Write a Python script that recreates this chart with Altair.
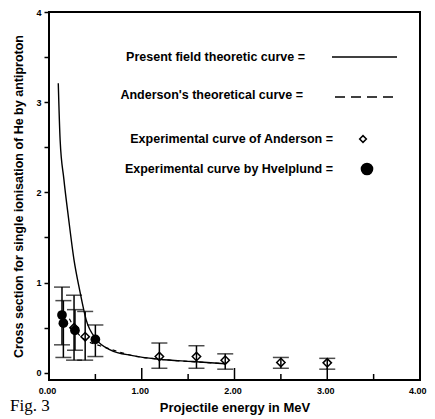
import altair as alt
import pandas as pd

# ---- data ----
# Present field theoretic curve (solid)
solid_E = [0.10, 0.12, 0.16, 0.21, 0.27, 0.33, 0.40, 0.51, 0.66, 0.90, 1.19, 1.55, 1.90]
solid_S = [3.21, 2.58, 2.15, 1.72, 1.25, 0.92, 0.59, 0.37, 0.255, 0.19, 0.15, 0.125, 0.10]

# Anderson's theoretical curve (dashed)
dash_E = [0.22, 0.30, 0.40, 0.55, 0.73, 0.90, 1.20, 1.60, 1.90]
dash_S = [0.60, 0.45, 0.36, 0.30, 0.24, 0.19, 0.15, 0.12, 0.10]

# Experimental curve of Anderson (open diamonds)
and_E = [0.27, 0.39, 1.19, 1.59, 1.90, 2.50, 3.00]
and_S = [0.50, 0.40, 0.18, 0.18, 0.14, 0.115, 0.11]
and_lo = [0.14, 0.14, 0.05, 0.05, 0.04, 0.05, 0.04]
and_hi = [0.86, 0.68, 0.33, 0.30, 0.21, 0.17, 0.16]

# Experimental curve by Hvelplund (filled circles)
hv_E = [0.14, 0.155, 0.28, 0.50]
hv_S = [0.64, 0.55, 0.47, 0.37]
hv_lo = [0.31, 0.17, 0.25, 0.18]
hv_hi = [0.95, 0.80, 0.70, 0.53]

x_labels = [0, 1, 2, 3, 4]
x_major = [1, 2, 3]
x_minor = [0.5, 1.5, 2.5, 3.5]
y_ticks = [0, 0.5, 1, 1.5, 2, 2.5, 3, 3.5, 4]

legend_labels = [
    "Present field theoretic curve =",
    "Anderson's theoretical curve =",
    "Experimental curve of Anderson =",
    "Experimental curve by Hvelplund =",
]

FONT = "Liberation Sans"
W, H = 371, 368

xs = alt.Scale(domain=[0, 4], nice=False, zero=False)
ys = alt.Scale(domain=[-0.08, 4], nice=False, zero=False)

x_axis = alt.Axis(values=x_labels, format=".2f", ticks=False, domain=False, grid=False,
                  labelFont=FONT, labelFontWeight="bold", labelFontSize=9, labelColor="black",
                  labelPadding=6, labelFlush=False,
                  labelAlign=alt.condition("datum.value == 4", alt.value("right"), alt.value("center")),
                  labelOffset=alt.condition("datum.value == 4", alt.value(6), alt.value(-2)),
                  title="Projectile energy in MeV", titleFont=FONT, titleFontSize=13,
                  titleFontWeight="bold", titleColor="black", titlePadding=6)
y_axis = alt.Axis(values=y_ticks, labelExpr="datum.value % 1 == 0 ? datum.value : ''",
                  tickSize=5, tickWidth=1.5, tickColor="black", domain=False, grid=False,
                  labelFont=FONT, labelFontWeight="bold", labelFontSize=9, labelColor="black",
                  labelPadding=3, labelFlush=False,
                  title="Cross section for single ionisation of He by antiproton",
                  titleFont=FONT, titleFontSize=12.5, titleFontWeight="bold",
                  titleColor="black", titlePadding=10)

solid_df = pd.DataFrame({"E": solid_E, "S": solid_S})
dash_df = pd.DataFrame({"E": dash_E, "S": dash_S})
and_df = pd.DataFrame({"E": and_E, "S": and_S, "lo": and_lo, "hi": and_hi})
hv_df = pd.DataFrame({"E": hv_E, "S": hv_S, "lo": hv_lo, "hi": hv_hi})

solid = alt.Chart(solid_df).mark_line(color="black", strokeWidth=1.4, interpolate="monotone").encode(
    x=alt.X("E:Q", scale=xs, axis=x_axis),
    y=alt.Y("S:Q", scale=ys, axis=y_axis),
)
dashed = alt.Chart(dash_df).mark_line(color="black", strokeWidth=1.2, strokeDash=[4, 4],
                                      interpolate="monotone").encode(
    x=alt.X("E:Q", scale=xs), y=alt.Y("S:Q", scale=ys))


def errbars(df):
    bar = alt.Chart(df).mark_rule(color="black", strokeWidth=1.5).encode(
        x=alt.X("E:Q", scale=xs), y=alt.Y("lo:Q", scale=ys), y2="hi:Q")
    cap_lo = alt.Chart(df).mark_tick(color="black", orient="horizontal", size=16, thickness=1.5).encode(
        x=alt.X("E:Q", scale=xs), y=alt.Y("lo:Q", scale=ys))
    cap_hi = alt.Chart(df).mark_tick(color="black", orient="horizontal", size=16, thickness=1.5).encode(
        x=alt.X("E:Q", scale=xs), y=alt.Y("hi:Q", scale=ys))
    return [bar, cap_lo, cap_hi]


and_pts = alt.Chart(and_df).mark_point(shape="diamond", filled=False, color="black",
                                       strokeWidth=1.5, size=70, opacity=1).encode(
    x=alt.X("E:Q", scale=xs), y=alt.Y("S:Q", scale=ys))
hv_pts = alt.Chart(hv_df).mark_circle(color="black", size=95, opacity=1).encode(
    x=alt.X("E:Q", scale=xs), y=alt.Y("S:Q", scale=ys))

# inward x ticks
major = alt.Chart(pd.DataFrame({"E": x_major})).mark_rule(color="black", strokeWidth=1.5).encode(
    x=alt.X("E:Q", scale=xs), y=alt.value(H), y2=alt.value(H - 12))
minor = alt.Chart(pd.DataFrame({"E": x_minor})).mark_rule(color="black", strokeWidth=1.5).encode(
    x=alt.X("E:Q", scale=xs), y=alt.value(H), y2=alt.value(H - 6))

one = pd.DataFrame({"a": [0]})
legend_layers = []
text_pos = [(256, 45), (254, 83), (284, 127), (284, 157)]
for lab, (px, py) in zip(legend_labels, text_pos):
    legend_layers.append(
        alt.Chart(one).mark_text(text=lab, align="right", baseline="middle", font=FONT,
                                 fontSize=12.5, fontWeight="bold", color="black").encode(
            x=alt.value(px), y=alt.value(py)))
legend_layers.append(alt.Chart(one).mark_rule(color="black", strokeWidth=1.5).encode(
    x=alt.value(283), x2=alt.value(348), y=alt.value(45)))
legend_layers.append(alt.Chart(one).mark_rule(color="black", strokeWidth=1.5, strokeDash=[10, 6]).encode(
    x=alt.value(286), x2=alt.value(348), y=alt.value(85)))
legend_layers.append(alt.Chart(one).mark_point(shape="diamond", filled=False, color="black",
                                              strokeWidth=1.5, size=45, opacity=1).encode(
    x=alt.value(314), y=alt.value(127)))
legend_layers.append(alt.Chart(one).mark_circle(color="black", size=160, opacity=1).encode(
    x=alt.value(318), y=alt.value(157)))

fig = alt.Chart(one).mark_text(text="Fig. 3", align="left", baseline="alphabetic",
                               font="Liberation Serif", fontSize=17, color="black").encode(
    x=alt.value(-39), y=alt.value(H + 31))

layers = [solid, dashed] + errbars(and_df) + errbars(hv_df) + [and_pts, hv_pts, major, minor] \
    + legend_layers + [fig]

chart = alt.layer(*layers).properties(
    width=W, height=H,
    autosize=alt.AutoSizeParams(type="none"),
    padding={"left": 41, "top": 4, "right": 7, "bottom": 38},
    background="white",
).configure_view(stroke="black", strokeWidth=2)

chart.save("out.html", embed_options={"renderer": "svg", "actions": False})
